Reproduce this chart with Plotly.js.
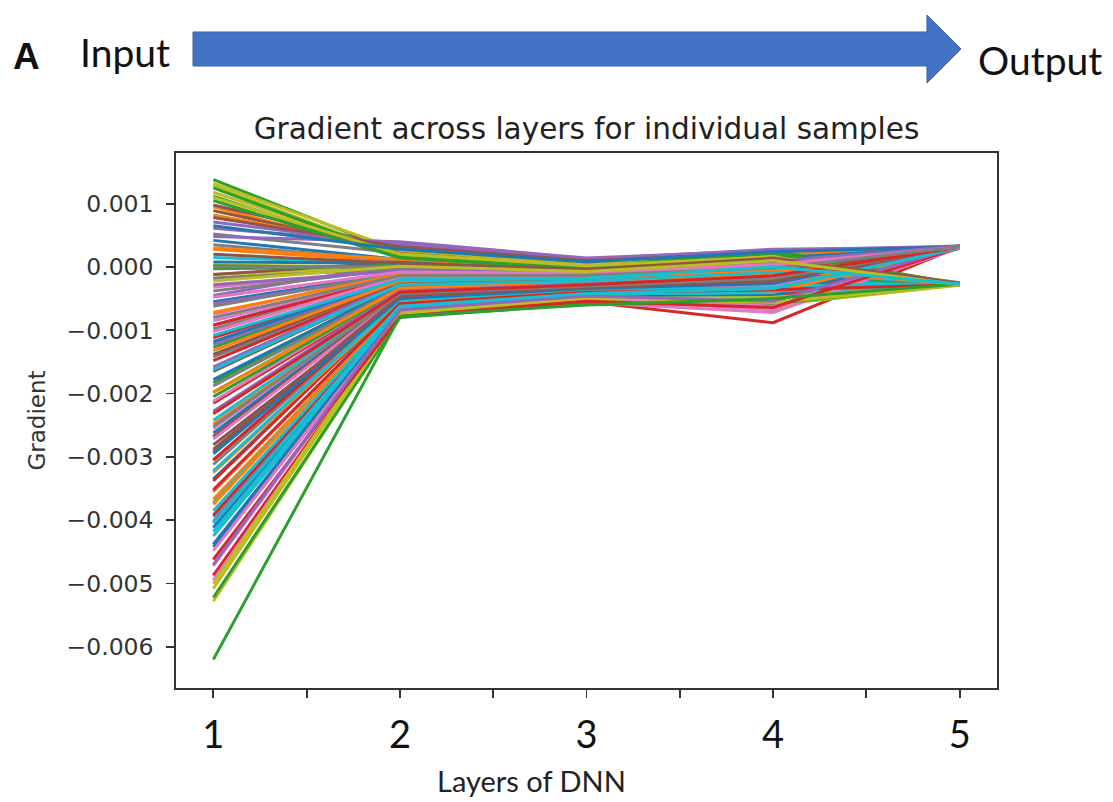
<!DOCTYPE html>
<html>
<head>
<meta charset="utf-8">
<script src="https://cdn.plot.ly/plotly-3.0.1.min.js"></script>
<style>html,body{margin:0;padding:0;background:#fff;}#chart{width:1113px;height:802px;}</style>
</head>
<body>
<div id="chart"></div>
<script>
// Layers of the DNN (x categories)
const layers = [1, 2, 3, 4, 5];
const xTickVals = [1, 1.5, 2, 2.5, 3, 3.5, 4, 4.5, 5];
const xTickText = ['1', '', '2', '', '3', '', '4', '', '5'];
const yTickVals = [0.001, 0, -0.001, -0.002, -0.003, -0.004, -0.005, -0.006];
const yTickText = ['0.001', '0.000', '\u22120.001', '\u22120.002', '\u22120.003', '\u22120.004', '\u22120.005', '\u22120.006'];

// Gradient of each individual sample at each layer (one entry per sample)
const layer1 = [
  -412e-5, 95e-5, -183e-5, -268e-5, -45e-5, -281e-5, -75e-5, 52e-5, -21e-5, -395e-5,
  -335e-5, -355e-5, 138e-5, -487e-5, 61e-5, 89e-5, -231e-5, -98e-5, 128e-5, -158e-5,
  42e-5, 28e-5, -127e-5, -215e-5, -402e-5, -305e-5, -472e-5, -142e-5, 3e-5, 15e-5,
  -178e-5, -367e-5, 2e-5, -338e-5, -92e-5, 98e-5, -255e-5, -312e-5, 118e-5, -425e-5,
  -438e-5, -248e-5, -198e-5, -112e-5, 71e-5, -165e-5, -32e-5, 35e-5, -528e-5, -372e-5,
  -55e-5, 82e-5, 112e-5, -148e-5, -58e-5, -292e-5, -212e-5, -62e-5, -12e-5, -242e-5,
  -262e-5, -325e-5, -205e-5, -392e-5, -122e-5, -12e-5, -85e-5, -38e-5, 132e-5, -418e-5,
  -442e-5, 30e-5, 125e-5, -305e-5, -158e-5, -268e-5, -495e-5, -188e-5, -18e-5, -322e-5,
  8e-5, -375e-5, -522e-5, -92e-5, 48e-5, 78e-5, -448e-5, -18e-5, -508e-5, -405e-5,
  -118e-5, -198e-5, -3e-5, -352e-5, -228e-5, -138e-5, -272e-5, 0e-5, -500e-5, -162e-5,
  -295e-5, -132e-5, 105e-5, -462e-5, -470e-5, -288e-5, -102e-5, -252e-5, 110e-5, -385e-5,
  65e-5, -72e-5, -620e-5, -232e-5, -28e-5, 20e-5, -48e-5, -80e-5, -22e-5, -108e-5
];
const layer2 = [
  -62e-5, 18e-5, -28e-5, -45e-5, 5e-5, -52e-5, -8e-5, 22e-5, 2e-5, -68e-5,
  -55e-5, -58e-5, 22e-5, -75e-5, 38e-5, 25e-5, -40e-5, -15e-5, 18e-5, -25e-5,
  12e-5, 8e-5, -22e-5, -38e-5, -65e-5, -48e-5, -72e-5, -30e-5, 0e-5, 5e-5,
  -30e-5, -60e-5, -2e-5, -52e-5, -12e-5, 30e-5, -42e-5, -50e-5, 20e-5, -70e-5,
  -68e-5, -42e-5, -32e-5, -18e-5, 35e-5, -28e-5, -5e-5, 10e-5, -78e-5, -62e-5,
  -10e-5, 28e-5, 15e-5, -26e-5, -12e-5, -50e-5, -35e-5, -10e-5, 3e-5, -40e-5,
  -45e-5, -55e-5, -36e-5, -64e-5, -20e-5, 8e-5, -14e-5, -3e-5, 26e-5, -66e-5,
  -70e-5, 12e-5, 16e-5, -48e-5, -25e-5, -44e-5, -76e-5, -32e-5, 4e-5, -52e-5,
  6e-5, -60e-5, -80e-5, -16e-5, 40e-5, 32e-5, -72e-5, -2e-5, -74e-5, -65e-5,
  -18e-5, -34e-5, 2e-5, -58e-5, -38e-5, -24e-5, -46e-5, 0e-5, -70e-5, -28e-5,
  -50e-5, -22e-5, 14e-5, -78e-5, -68e-5, -46e-5, -16e-5, -42e-5, 20e-5, -62e-5,
  28e-5, -12e-5, -78e-5, -40e-5, -6e-5, 6e-5, -8e-5, -14e-5, 1e-5, -20e-5
];
const layer3 = [
  -40e-5, -5e-5, -20e-5, -30e-5, -8e-5, -35e-5, -12e-5, 2e-5, -10e-5, -45e-5,
  -38e-5, -36e-5, 5e-5, -55e-5, 10e-5, 0e-5, -28e-5, -14e-5, -2e-5, -20e-5,
  -4e-5, -6e-5, -18e-5, -25e-5, -44e-5, -33e-5, -50e-5, -22e-5, -8e-5, -5e-5,
  -22e-5, -42e-5, -10e-5, -38e-5, -12e-5, 8e-5, -30e-5, -34e-5, 3e-5, -46e-5,
  -48e-5, -28e-5, -24e-5, -15e-5, 12e-5, -20e-5, -9e-5, -3e-5, -52e-5, -40e-5,
  -12e-5, 4e-5, -2e-5, -18e-5, -14e-5, -34e-5, -25e-5, -10e-5, -6e-5, -28e-5,
  -30e-5, -38e-5, -26e-5, -44e-5, -16e-5, -4e-5, -13e-5, -7e-5, 6e-5, -45e-5,
  -50e-5, -2e-5, -1e-5, -33e-5, -19e-5, -30e-5, -56e-5, -24e-5, -6e-5, -36e-5,
  -5e-5, -40e-5, -58e-5, -14e-5, 14e-5, 10e-5, -48e-5, -8e-5, -50e-5, -44e-5,
  -16e-5, -24e-5, -6e-5, -40e-5, -27e-5, -20e-5, -32e-5, -10e-5, -48e-5, -22e-5,
  -34e-5, -17e-5, -3e-5, -54e-5, -46e-5, -32e-5, -15e-5, -30e-5, 2e-5, -42e-5,
  8e-5, -11e-5, -60e-5, -28e-5, -9e-5, -4e-5, -10e-5, -13e-5, -7e-5, -18e-5
];
const layer4 = [
  -30e-5, 10e-5, -12e-5, -40e-5, 5e-5, -25e-5, -8e-5, 18e-5, 2e-5, -35e-5,
  -20e-5, -44e-5, 22e-5, -88e-5, 25e-5, 15e-5, -18e-5, -4e-5, 20e-5, -10e-5,
  12e-5, 8e-5, -14e-5, -30e-5, -52e-5, -22e-5, -68e-5, -16e-5, 14e-5, 18e-5,
  -6e-5, -38e-5, 5e-5, -46e-5, -2e-5, 26e-5, -20e-5, -28e-5, 22e-5, -42e-5,
  -55e-5, -15e-5, -10e-5, 0e-5, 28e-5, -8e-5, 6e-5, 16e-5, -60e-5, -32e-5,
  2e-5, 20e-5, 24e-5, -12e-5, -4e-5, -26e-5, -18e-5, 4e-5, 10e-5, -22e-5,
  -24e-5, -34e-5, -14e-5, -50e-5, -6e-5, 12e-5, 0e-5, 8e-5, 24e-5, -36e-5,
  -45e-5, 18e-5, 26e-5, -24e-5, -10e-5, -20e-5, -72e-5, -8e-5, 12e-5, -30e-5,
  14e-5, -40e-5, -58e-5, -2e-5, 26e-5, 22e-5, -62e-5, 10e-5, -48e-5, -38e-5,
  0e-5, -12e-5, 12e-5, -36e-5, -16e-5, -6e-5, -28e-5, 6e-5, -56e-5, -8e-5,
  -26e-5, -4e-5, 22e-5, -64e-5, -54e-5, -22e-5, 0e-5, -18e-5, 16e-5, -34e-5,
  24e-5, 2e-5, -50e-5, -14e-5, 8e-5, 14e-5, 4e-5, -2e-5, 10e-5, 0e-5
];
const layer5 = [
  32e-5, -28e-5, -27e-5, 31e-5, 33e-5, 30e-5, -26e-5, 31e-5, -28e-5, -27e-5,
  33e-5, 31e-5, -27e-5, 32e-5, 30e-5, -25e-5, 31e-5, -28e-5, -29e-5, 32e-5,
  -26e-5, 32e-5, -28e-5, 33e-5, 31e-5, -27e-5, 30e-5, 32e-5, -28e-5, -26e-5,
  31e-5, -27e-5, 32e-5, 30e-5, 33e-5, 31e-5, -28e-5, 30e-5, -27e-5, -28e-5,
  32e-5, 30e-5, -26e-5, -27e-5, 31e-5, 32e-5, 33e-5, -26e-5, -29e-5, 31e-5,
  -27e-5, 33e-5, -28e-5, 31e-5, 32e-5, 30e-5, -27e-5, 31e-5, -28e-5, -27e-5,
  33e-5, 31e-5, -27e-5, 32e-5, -26e-5, 31e-5, 30e-5, 32e-5, -27e-5, 31e-5,
  30e-5, -26e-5, -28e-5, 33e-5, 31e-5, 32e-5, 31e-5, -27e-5, -28e-5, -26e-5,
  32e-5, 31e-5, -27e-5, 30e-5, 33e-5, -27e-5, 32e-5, 31e-5, -28e-5, -27e-5,
  31e-5, 32e-5, -26e-5, -28e-5, 30e-5, 31e-5, 33e-5, 30e-5, -28e-5, -26e-5,
  33e-5, -27e-5, -28e-5, 31e-5, 32e-5, 30e-5, -26e-5, 32e-5, -29e-5, 30e-5,
  32e-5, 30e-5, -27e-5, 31e-5, 33e-5, -26e-5, 31e-5, 32e-5, -28e-5, -27e-5
];

const tab10 = ['#1f77b4', '#ff7f0e', '#2ca02c', '#d62728', '#9467bd',
               '#8c564b', '#e377c2', '#7f7f7f', '#bcbd22', '#17becf'];

const traces = [];
for (let i = 0; i < layer1.length; i++) {
  traces.push({
    x: layers,
    y: [layer1[i], layer2[i], layer3[i], layer4[i], layer5[i]],
    type: 'scatter',
    mode: 'lines',
    line: {width: 3},
    showlegend: false,
    hoverinfo: 'skip'
  });
}

// plot frame: left 176, right 997, top 153, bottom 688 (px)
const L = 176, R = 997, T = 153, B = 688;
const W = R - L, H = B - T;
const px = v => ((v - L) / W).toFixed(4);
const py = v => ((B - v) / H).toFixed(4);

const arrowPath = 'M' + px(193) + ',' + py(32) + ' L' + px(927) + ',' + py(32) +
  ' L' + px(927) + ',' + py(15) + ' L' + px(961) + ',' + py(49) +
  ' L' + px(927) + ',' + py(83) + ' L' + px(927) + ',' + py(66) +
  ' L' + px(193) + ',' + py(66) + ' Z';

const calib = 'Lato, "Open Sans", sans-serif';
const dv = '"DejaVu Sans", sans-serif';

const layout = {
  width: 1113, height: 802,
  margin: {l: L, r: 1113 - R, t: T, b: 802 - B},
  paper_bgcolor: '#ffffff', plot_bgcolor: '#ffffff',
  colorway: tab10,
  showlegend: false,
  title: {
    text: 'Gradient across layers for individual samples',
    font: {family: dv, size: 29.5, color: '#222'},
    x: 0.5, xref: 'paper', xanchor: 'center',
    y: 1 - 129 / 802, yref: 'container', yanchor: 'middle'
  },
  xaxis: {
    range: [0.8, 5.2],
    tickmode: 'array', tickvals: xTickVals, ticktext: xTickText,
    ticks: 'outside', ticklen: 8, tickwidth: 1.8, tickcolor: '#333',
    ticklabelstandoff: 5,
    tickfont: {family: calib, size: 38, color: '#111'},
    showline: true, mirror: true, linecolor: '#333', linewidth: 1.8,
    showgrid: false, zeroline: false
  },
  yaxis: {
    range: [-0.00665, 0.0018],
    tickmode: 'array', tickvals: yTickVals, ticktext: yTickText,
    ticks: 'outside', ticklen: 8, tickwidth: 1.8, tickcolor: '#333',
    ticklabelstandoff: 8,
    tickfont: {family: dv, size: 23.5, color: '#333'},
    showline: true, mirror: true, linecolor: '#333', linewidth: 1.8,
    showgrid: false, zeroline: false,
    title: {text: 'Gradient', font: {family: dv, size: 23, color: '#333'}, standoff: 14}
  },
  shapes: [{
    type: 'path', xref: 'paper', yref: 'paper', path: arrowPath,
    fillcolor: '#4472C4', line: {color: '#3A64B0', width: 1}, layer: 'above'
  }],
  annotations: [
    {text: '<b>A</b>', xref: 'paper', yref: 'paper', x: px(27), y: py(56),
     xanchor: 'center', yanchor: 'middle', showarrow: false,
     font: {family: '"Liberation Sans", Arial, sans-serif', size: 37, color: '#111'}},
    {text: 'Input', xref: 'paper', yref: 'paper', x: px(125), y: py(52),
     xanchor: 'center', yanchor: 'middle', showarrow: false,
     font: {family: calib, size: 39, color: '#111'}},
    {text: 'Output', xref: 'paper', yref: 'paper', x: px(1040), y: py(60),
     xanchor: 'center', yanchor: 'middle', showarrow: false,
     font: {family: calib, size: 39, color: '#111'}},
    {text: 'Layers of DNN', xref: 'paper', yref: 'paper', x: px(531), y: py(781),
     xanchor: 'center', yanchor: 'middle', showarrow: false,
     font: {family: calib, size: 29, color: '#222'}}
  ]
};

Plotly.newPlot('chart', traces, layout, {staticPlot: true, displayModeBar: false});
</script>
</body>
</html>
